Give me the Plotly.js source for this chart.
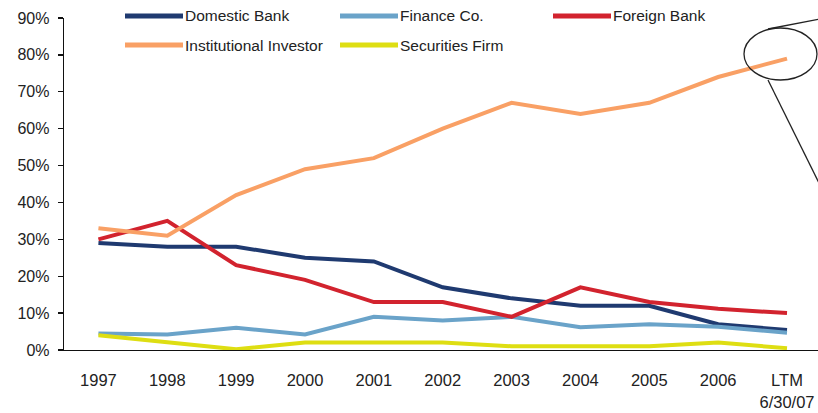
<!DOCTYPE html>
<html>
<head>
<meta charset="utf-8">
<script src="https://cdn.plot.ly/plotly-3.0.1.min.js"></script>
<style>html,body{margin:0;padding:0;background:#fff;}#chart{width:818px;height:413px;}</style>
</head>
<body>
<div id="chart"></div>
<script>
const categories = ['1997','1998','1999','2000','2001','2002','2003','2004','2005','2006','LTM<br>6/30/07'];
const seriesNames = ['Domestic Bank','Finance Co.','Foreign Bank','Institutional Investor','Securities Firm'];
const domesticBank = [0.29,0.28,0.28,0.25,0.24,0.17,0.14,0.12,0.12,0.07,0.054];
const financeCo = [0.045,0.042,0.06,0.042,0.09,0.08,0.09,0.062,0.07,0.063,0.047];
const foreignBank = [0.30,0.35,0.23,0.19,0.13,0.13,0.09,0.17,0.13,0.112,0.10];
const institutionalInvestor = [0.33,0.31,0.42,0.49,0.52,0.60,0.67,0.64,0.67,0.74,0.79];
const securitiesFirm = [0.04,0.022,0.002,0.02,0.02,0.02,0.01,0.01,0.01,0.02,0.005];
const yTickVals = [0,0.1,0.2,0.3,0.4,0.5,0.6,0.7,0.8,0.9];
const yTickText = ['0%','10%','20%','30%','40%','50%','60%','70%','80%','90%'];

const colors = ['#1f3a70','#6aa3c9','#d2232e','#f9a065','#dede12'];
const seriesData = [domesticBank, financeCo, foreignBank, institutionalInvestor, securitiesFirm];

const W = 818, H = 413, L = 64, R = 0, T = 18, B = 63;
const PW = W - L - R, PH = H - T - B;
const px = x => (x - L) / PW;
const py = y => (H - B - y) / PH;
const FONT = 'Liberation Sans, Arial, sans-serif';

const traces = seriesData.map((d, i) => ({
  type: 'scatter', mode: 'lines', x: categories, y: d, name: seriesNames[i],
  line: {color: colors[i], width: 4}, showlegend: false, hoverinfo: 'skip'
}));

// manual legend: positions in pixels
const legendPos = [[125,16],[340,16],[553,16],[125,45],[340,45]];
const shapes = [];
const annotations = [];
legendPos.forEach((p, i) => {
  shapes.push({type:'line', xref:'paper', yref:'paper', x0:px(p[0]), x1:px(p[0]+58), y0:py(p[1]), y1:py(p[1]),
    line:{color:colors[i], width:5}});
  annotations.push({xref:'paper', yref:'paper', x:px(p[0]+58), y:py(p[1]), xanchor:'left', yanchor:'middle',
    text:seriesNames[i], showarrow:false, font:{family:FONT, size:15.5, color:'#222'}});
});
// callout ellipse and lines
shapes.push({type:'circle', xref:'paper', yref:'paper', x0:px(744), x1:px(817), y0:py(80), y1:py(28),
  line:{color:'#222', width:1.3}});
shapes.push({type:'line', xref:'paper', yref:'paper', x0:px(768), y0:py(29), x1:px(820), y1:py(19),
  line:{color:'#222', width:1.3}});
shapes.push({type:'line', xref:'paper', yref:'paper', x0:px(768), y0:py(80), x1:px(820), y1:py(185),
  line:{color:'#222', width:1.3}});

const layout = {
  width: W, height: H,
  margin: {l: L, r: R, t: T, b: B},
  paper_bgcolor: '#fff', plot_bgcolor: '#fff',
  showlegend: false,
  font: {family: FONT, size: 16, color: '#222'},
  xaxis: {type:'category', range:[-0.5, 10.45], showgrid:false, zeroline:false,
    showline:true, linecolor:'#111', linewidth:1.3, ticks:'', ticklabelstandoff: 15,
    tickfont:{size:16.5, color:'#222'}},
  yaxis: {range:[0, 0.9], tickvals: yTickVals, ticktext: yTickText, showgrid:false, zeroline:false,
    showline:true, linecolor:'#111', linewidth:1.3, ticks:'outside', ticklen:5, tickcolor:'#111',
    tickwidth:1.3, ticklabelstandoff: 5, tickfont:{size:16, color:'#222'}},
  shapes: shapes, annotations: annotations
};

Plotly.newPlot('chart', traces, layout, {staticPlot: true});
</script>
</body>
</html>
